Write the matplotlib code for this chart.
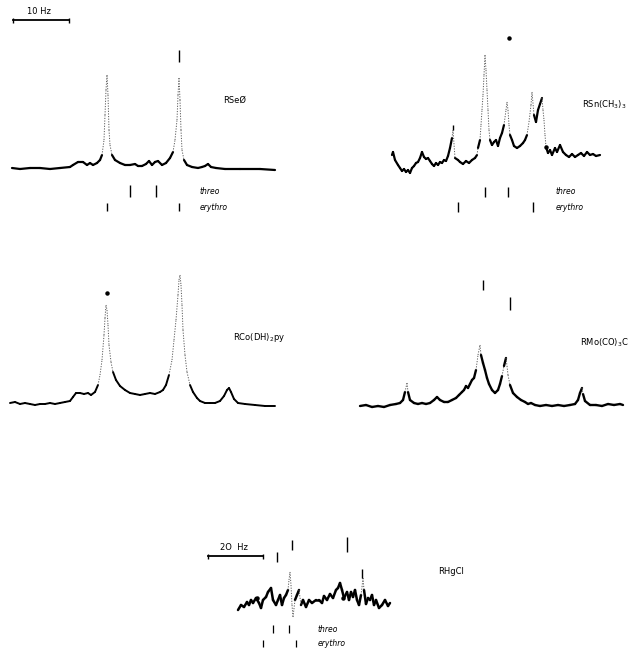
import numpy as np
import matplotlib
matplotlib.use("Agg")
import matplotlib.pyplot as plt
from matplotlib.collections import LineCollection

# traces (x: chart position, y: pen height, paper coords)
se_x = [12, 20, 30, 40, 50, 60, 70, 73, 78, 83, 87, 90, 93, 97, 100, 102, 104, 105, 106, 107,
        108, 109, 110, 112, 115, 120, 125, 130, 135, 138, 142, 146, 149, 152, 155, 158, 162,
        166, 170, 173, 175, 177, 178, 179, 180, 181, 182, 184, 187, 192, 198, 202, 205, 208,
        211, 216, 225, 240, 260, 275]
se_y = [168, 169, 168, 168, 169, 168, 167, 165, 162, 162, 165, 163, 165, 163, 160, 155, 140, 115,
        90, 75, 95, 130, 145, 155, 160, 163, 165, 165, 164, 166, 166, 164, 161, 165, 162, 161,
        165, 163, 158, 152, 140, 120, 95, 78, 100, 130, 150, 160, 165, 167, 168, 167, 166, 164,
        167, 168, 169, 169, 169, 170]

sn_x = [392, 393, 395, 398, 400, 402, 404, 406, 408, 410, 412, 414, 416, 418, 420, 422, 424, 426,
        428, 430, 432, 434, 436, 438, 440, 442, 444, 446, 448, 450, 452, 453, 455, 458, 460, 463,
        466, 469, 472, 475, 477, 478, 480, 481, 482, 483, 484, 485, 486, 487, 488, 489, 490, 492,
        494, 496, 498, 500, 502, 504, 506, 507, 508, 509, 510, 512, 514, 517, 520, 523, 525, 527,
        529, 531, 532, 534, 536, 538, 540, 542, 543, 544, 545, 546, 548, 550, 552, 555, 557, 560,
        563, 566, 569, 572, 575, 578, 581, 584, 587, 590, 593, 596, 600]
sn_y = [155, 152, 160, 165, 168, 171, 169, 172, 170, 173, 168, 166, 163, 162, 158, 152, 157, 159,
        158, 161, 164, 166, 163, 165, 162, 163, 160, 161, 156, 148, 138, 130, 158, 160, 162, 164,
        161, 163, 160, 158, 155, 148, 140, 125, 110, 95, 75, 55, 70, 90, 110, 130, 140, 145,
        142, 140, 146, 138, 133, 125, 110, 102, 110, 125, 135, 140, 146, 148, 146, 143, 140, 135,
        122, 105, 92, 115, 122, 110, 104, 98, 110, 120, 135, 147, 153, 150, 155, 148, 152, 145,
        152, 155, 157, 154, 157, 155, 153, 156, 152, 155, 154, 156, 155]

co_x = [10, 15, 20, 25, 30, 35, 40, 45, 50, 55, 60, 65, 70, 73, 76, 80, 84, 88, 91, 95, 98, 100,
        102, 104, 105, 106, 107, 108, 109, 111, 113, 116, 120, 125, 130, 135, 140, 145, 150, 155,
        160, 163, 166, 169, 172, 174, 176, 178, 179, 180, 181, 182, 183, 185, 187, 190, 193, 197,
        200, 205, 210, 215, 220, 224, 227, 229, 231, 234, 238, 245, 255, 265, 275]
co_y = [403, 402, 404, 403, 404, 405, 404, 404, 403, 404, 403, 402, 401, 397, 393, 393, 394, 393,
        395, 392, 385, 375, 360, 335, 318, 305, 310, 325, 345, 362, 372, 380, 386, 390, 393, 394,
        395, 394, 393, 394, 392, 390, 385, 375, 360, 340, 320, 295, 280, 275, 285, 305, 330, 355,
        372, 385, 392, 398, 401, 403, 403, 403, 401, 396, 390, 388, 392, 399, 403, 404, 405, 406,
        406]

mo_x = [360, 366, 372, 378, 384, 390, 396, 400, 403, 405, 407, 408, 410, 414, 418, 422, 426, 430,
        434, 437, 440, 444, 448, 452, 456, 459, 462, 464, 466, 468, 470, 472, 474, 476, 478, 480,
        481, 483, 485, 487, 489, 492, 495, 498, 500, 502, 504, 506, 507, 508, 510, 513, 517, 521,
        525, 528, 531, 535, 540, 546, 552, 558, 564, 570, 575, 578, 580, 582, 583, 585, 590, 596,
        602, 608, 614, 620, 623]
mo_y = [406, 405, 407, 406, 407, 405, 404, 403, 400, 392, 383, 392, 400, 403, 404, 403, 404, 403,
        400, 397, 400, 402, 402, 400, 398, 395, 392, 390, 386, 388, 384, 380, 378, 370, 355, 345,
        355, 363, 370, 378, 384, 390, 393, 390, 384, 376, 366, 358, 366, 375, 385, 393, 397, 400,
        402, 404, 403, 405, 406, 405, 406, 405, 406, 405, 404, 400, 393, 388, 394, 401, 405, 405,
        406, 404, 405, 404, 405]

hg_x = [238, 241, 244, 247, 249, 251, 253, 256, 259, 261, 263, 266, 268, 271, 273, 276, 278, 280,
        282, 284, 286, 288, 289, 290, 291, 292, 293, 295, 297, 299, 301, 303, 306, 309, 312, 316,
        319, 322, 324, 327, 330, 333, 336, 338, 340, 342, 344, 347, 349, 351, 353, 355, 357, 359,
        361, 362, 363, 364, 366, 368, 370, 372, 374, 376, 379, 382, 385, 388, 390]
hg_y = [610, 605, 607, 602, 605, 600, 603, 598, 603, 608, 600, 597, 592, 588, 600, 605, 600, 595,
        605, 598, 595, 590, 580, 572, 585, 605, 617, 600, 595, 590, 605, 600, 607, 600, 603, 600,
        600, 603, 596, 600, 594, 598, 590, 588, 583, 590, 598, 592, 600, 592, 597, 590, 600, 605,
        595, 587, 578, 590, 604, 598, 600, 595, 605, 600, 608, 605, 600, 606, 603]

# assignment ticks (chart positions)
se_threo = [130, 156]
se_erythro = [107, 179]
sn_threo = [485, 508]
sn_erythro = [458, 533]
hg_threo = [273, 289]
hg_erythro = [263, 296]

# peak marks above the traces
mark_x = [179, 483, 510, 453, 277, 292, 347, 362]
mark_top = [50, 280, 297, 125, 552, 540, 537, 569]
mark_bot = [62, 290, 310, 130, 562, 550, 552, 578]
dot_x = [509, 107, 546, 257, 343]
dot_y = [38, 293, 147, 598, 598]

W, H = 634, 650
fig = plt.figure(figsize=(W / 100, H / 100), dpi=100)
ax = fig.add_axes([0, 0, 1, 1])
ax.set_xlim(0, W)
ax.set_ylim(H, 0)
ax.axis("off")


def draw_trace(xs, ys, lw=1.5, steep_at=4):
    # fast pen strokes (steep flanks) print faint and broken on the chart
    pts = np.column_stack([xs, ys])
    segs = np.stack([pts[:-1], pts[1:]], axis=1)
    slope = np.abs(np.diff(ys) / np.diff(xs))
    steep = slope > steep_at
    ax.add_collection(LineCollection(segs[~steep], colors="black", linewidths=lw,
                                     capstyle="round", joinstyle="round"))
    ax.add_collection(LineCollection(segs[steep], colors="0.35", linewidths=0.7,
                                     linestyles=(0, (1.2, 1.5))))


draw_trace(se_x, se_y, 1.6)
draw_trace(sn_x, sn_y, 1.6, 6)
draw_trace(co_x, co_y, 1.4)
draw_trace(mo_x, mo_y, 1.7)
draw_trace(hg_x, hg_y, 1.8, 7)

ax.vlines(se_threo, 185, 197, color="black", lw=1)
ax.vlines(se_erythro, 203, 211, color="black", lw=1)
ax.vlines(sn_threo, 187, 197, color="black", lw=1)
ax.vlines(sn_erythro, 202, 212, color="black", lw=1)
ax.vlines(hg_threo, 625, 633, color="black", lw=0.9)
ax.vlines(hg_erythro, 640, 647, color="black", lw=0.9)
ax.vlines(mark_x, mark_top, mark_bot, color="black", lw=1)
ax.plot(dot_x, dot_y, "o", color="black", ms=2.2)

lab = dict(fontsize=5.5, style="italic", va="center", ha="left")
for tx, ty, ey in [(200, 191, 208), (556, 192, 207), (318, 629, 643)]:
    ax.text(tx, ty, "threo", **lab)
    ax.text(tx, ey, "erythro", **lab)

name = dict(fontsize=6, va="center", ha="left")
ax.text(223, 100, "RSeØ", **name)
ax.text(582, 105, "RSn(CH$_3$)$_3$", **name)
ax.text(233, 338, "RCo(DH)$_2$py", **name)
ax.text(580, 343, "RMo(CO)$_3$C", **name)
ax.text(438, 571, "RHgCl", **name)

# scale bars
for x0, x1, y, txt in [(13, 69, 20, "10 Hz"), (208, 263, 556, "2O  Hz")]:
    ax.plot([x0, x1], [y, y], color="black", lw=1.3)
    ax.vlines([x0, x1], y - 2.5, y + 2.5, color="black", lw=1)
    ax.text((x0 + x1) / 2 - 2, y - 9, txt, fontsize=6, ha="center", va="center")

fig.savefig("out.png", dpi=100)
